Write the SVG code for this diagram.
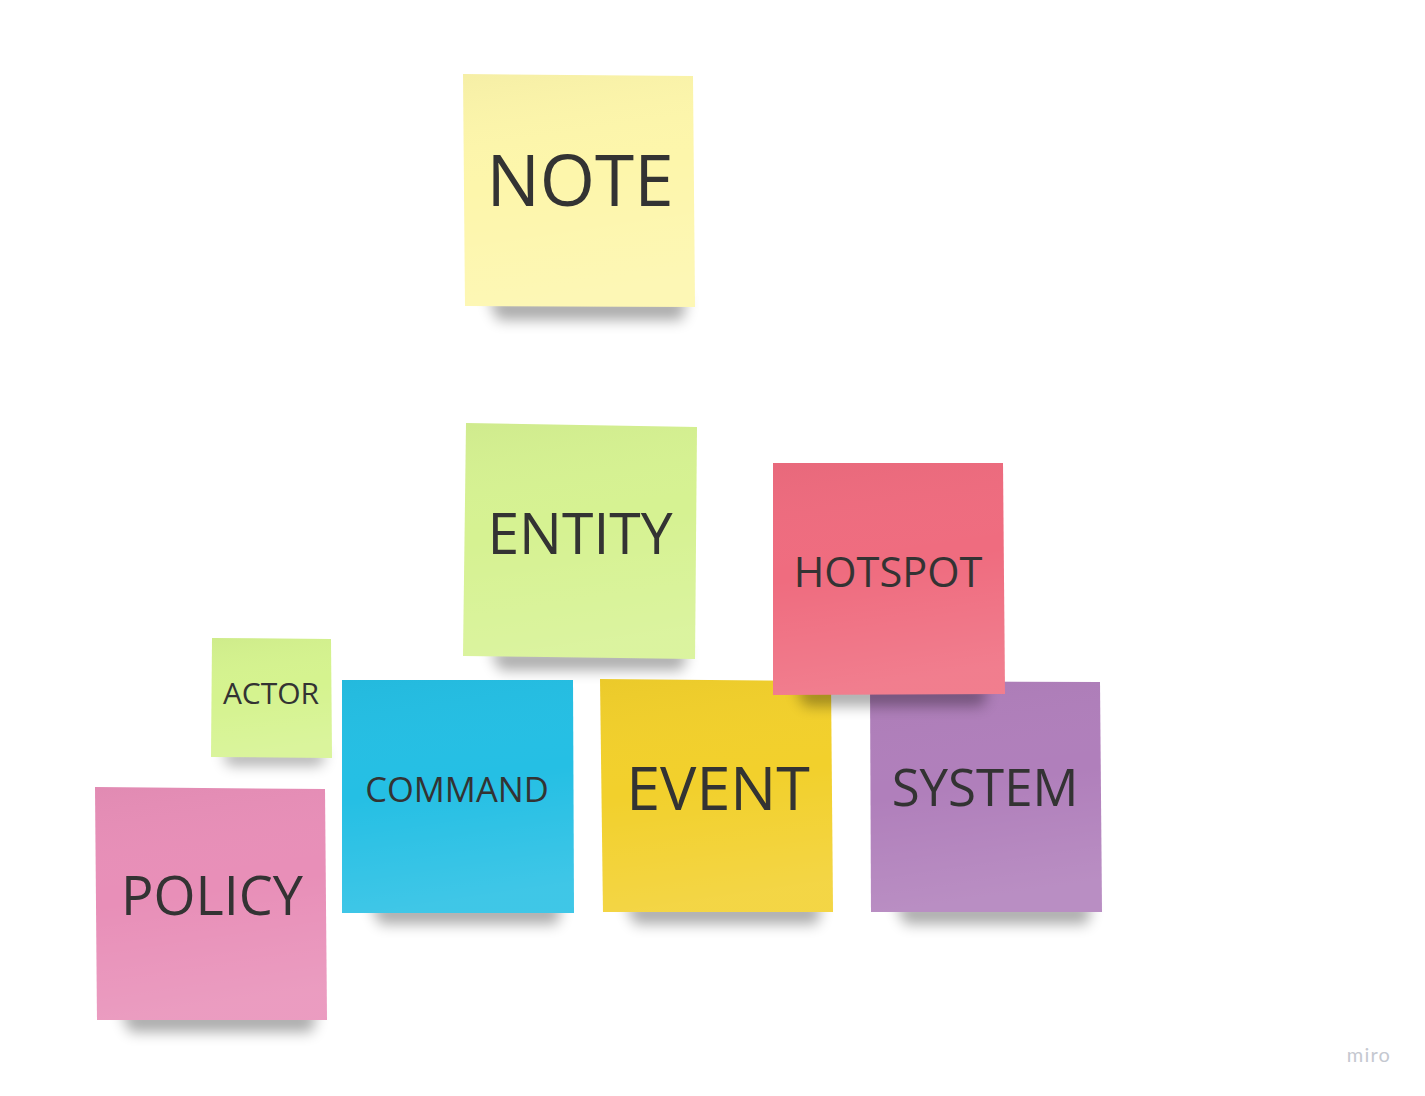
<svg xmlns="http://www.w3.org/2000/svg" width="1425" height="1096" viewBox="0 0 1425 1096">
<defs>
<filter id="blur" x="-20%" y="-150%" width="140%" height="400%"><feGaussianBlur stdDeviation="7"/></filter>
<linearGradient id="sheen" x1="0" y1="0" x2="0.15" y2="1">
<stop offset="0" stop-color="#000" stop-opacity="0.03"/>
<stop offset="0.5" stop-color="#fff" stop-opacity="0"/>
<stop offset="1" stop-color="#fff" stop-opacity="0.12"/>
</linearGradient>
</defs>
<style>
text{font-family:"Open Sans","Liberation Sans",sans-serif;fill:#333;text-anchor:middle}
.sh{fill:#000;opacity:0.33;filter:url(#blur)}
.gl{fill:url(#sheen)}
</style>
<rect width="1425" height="1096" fill="#fff"/>

<g id="note-entity">
<path class="sh" d="M490 650 L688 650 L682 670 L500 670 Z"/>
<polygon points="466,423 697,427 695,659 463,656" fill="#d6f292"/>
<polygon class="gl" points="466,423 697,427 695,659 463,656"/>
<text x="580" y="554" font-size="57">ENTITY</text>
</g>

<g id="note-actor">
<path class="sh" d="M222 751 L326 751 L321 765 L228 765 Z"/>
<polygon points="212,638 331,639 332,758 211,757" fill="#d5f38f"/>
<polygon class="gl" points="212,638 331,639 332,758 211,757"/>
<text x="271" y="704" font-size="30">ACTOR</text>
</g>

<g id="note-command">
<path class="sh" d="M370 903 L562 903 L557 924 L380 924 Z"/>
<polygon points="342,680 573,680 574,913 342,913" fill="#25bfe4"/>
<polygon class="gl" points="342,680 573,680 574,913 342,913"/>
<text x="457" y="802" font-size="34.5">COMMAND</text>
</g>

<g id="note-event">
<path class="sh" d="M625 903 L822 903 L817 924 L635 924 Z"/>
<polygon points="600,679 831,681 833,912 603,912" fill="#f2d02c"/>
<polygon class="gl" points="600,679 831,681 833,912 603,912"/>
<text x="718" y="810" font-size="61">EVENT</text>
</g>

<g id="note-system">
<path class="sh" d="M895 903 L1092 903 L1087 924 L905 924 Z"/>
<polygon points="870,681 1100,682 1102,912 871,912" fill="#b07fbb"/>
<polygon class="gl" points="870,681 1100,682 1102,912 871,912"/>
<text x="985" y="806" font-size="51">SYSTEM</text>
</g>

<g id="note-hotspot">
<path class="sh" d="M795 686 L988 686 L983 706 L805 706 Z"/>
<polygon points="773,463 1003,463 1005,694 773,695" fill="#ef6c7f"/>
<polygon class="gl" points="773,463 1003,463 1005,694 773,695"/>
<text x="888" y="587" font-size="41.5">HOTSPOT</text>
</g>

<g id="note-policy">
<path class="sh" d="M120 1010 L317 1010 L312 1032 L130 1032 Z"/>
<polygon points="95,787 325,789 327,1020 97,1020" fill="#e88fb8"/>
<polygon class="gl" points="95,787 325,789 327,1020 97,1020"/>
<text x="212" y="915" font-size="54">POLICY</text>
</g>

<g id="note-note">
<path class="sh" d="M488 298 L687 298 L682 320 L498 320 Z"/>
<polygon points="463,74 693,76 695,307 465,306" fill="#fdf6ab"/>
<polygon class="gl" points="463,74 693,76 695,307 465,306"/>
<text x="580" y="206" font-size="71">NOTE</text>
</g>

<g id="connectors"/>

<text x="1369" y="1062" font-size="20" style="fill:#c5c8d0;font-family:'Lato','Liberation Sans',sans-serif" letter-spacing="1.2">miro</text>
</svg>
